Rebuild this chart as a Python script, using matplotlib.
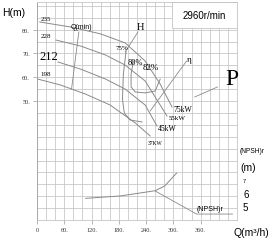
import matplotlib
matplotlib.use("Agg")
import matplotlib.pyplot as plt
from matplotlib.patches import Rectangle

# ------------------------
# Data
# ------------------------
# H-Q curves for four impeller diameters (Q in m3/h, H in m)
q_235 = [6, 74, 140, 194, 238, 271, 297]
h_235 = [83.2, 81.1, 78.2, 74.4, 66.8, 57.1, 47.5]
q_228 = [42, 96, 151, 194, 238, 286]
h_228 = [75.6, 73.1, 69.3, 65.1, 58.4, 43.7]
q_212 = [46, 96, 151, 194, 238, 264]
h_212 = [66.4, 63.4, 59.2, 55.0, 48.3, 39.5]
q_198 = [2, 52, 107, 161, 216, 249]
h_198 = [59.2, 56.7, 52.9, 48.3, 40.8, 35.3]

# iso-efficiency lines
q_eff75 = [196, 190, 188, 192, 205, 231]
h_eff75 = [71.0, 61.3, 50.8, 45.0, 42.0, 41.2]
q_eff80 = [212, 207, 207, 216, 238, 260, 271]
h_eff80 = [66.8, 61.3, 55.9, 53.8, 53.4, 54.2, 59.2]

# (NPSH)r curve, drawn on the same grid
q_npsh = [107, 183, 260, 281, 307]
h_npsh = [9.1, 10.1, 12.3, 14.3, 19.7]

diam_labels = ["235", "228", "212", "198"]
kw_labels = ["75kW", "55kW", "45kW", "37KW"]
x_ticks = [0, 60, 120, 180, 240, 300, 360]
y_ticks = [50, 60, 70, 80]
npsh_labels = ["7", "6", "5"]

W, H = 280, 253
fig = plt.figure(figsize=(W / 100, H / 100), dpi=100)
ax = fig.add_axes([37 / W, 1 - 221 / H, 200 / W, 218 / H])
ax.set_xlim(0, 440)
ax.set_ylim(0, 91.6)

grid_c = "#c4c4c4"
line_c = "#8a8a8a"
for v in range(20, 440, 20):
    ax.axvline(v, color=grid_c, lw=0.55, zorder=0)
for v in range(5, 95, 5):
    ax.axhline(v, color=grid_c, lw=0.55, zorder=0)

for s in ax.spines.values():
    s.set_color(grid_c)
    s.set_linewidth(0.6)
ax.spines["left"].set_color("#999999")

serif = "Liberation Serif"
sans = "Liberation Sans"

ax.set_xticks(x_ticks)
ax.set_xticklabels([str(t) if t == 0 else f"{t}." for t in x_ticks],
                   fontsize=4.5, family=serif, color="#333333")
ax.set_yticks(y_ticks)
ax.set_yticklabels([f"{t}." for t in y_ticks], fontsize=4.5, family=serif,
                   color="#333333")
ax.tick_params(length=3, width=0.5, color="#999999", pad=2)

# white box holding the speed
ax.add_patch(Rectangle((296, 80.5), 144, 11.1, facecolor="white",
                       edgecolor=grid_c, lw=0.6, zorder=1))
ax.text(368, 86.3, "2960r/min", fontsize=7, family=sans, ha="center",
        va="center", zorder=2)

# curves
for q, h in [(q_235, h_235), (q_228, h_228), (q_212, h_212), (q_198, h_198)]:
    ax.plot(q, h, color=line_c, lw=0.7, zorder=3)
ax.plot(q_eff75, h_eff75, color=line_c, lw=0.7, zorder=3)
ax.plot(q_eff80, h_eff80, color=line_c, lw=0.7, zorder=3)
ax.plot(q_npsh, h_npsh, color=line_c, lw=0.7, zorder=3)

# leader lines
lead = dict(color=line_c, lw=0.6, zorder=3)
ax.plot([92, 76], [79, 55], **lead)            # Q(min)
ax.plot([194, 222], [70.6, 79], **lead)        # H
ax.plot([329, 249], [66.8, 45.8], **lead)      # eta
ax.plot([397, 347], [55.9, 51.7], **lead)      # P
ax.plot([260, 351, 430], [12.2, 2.5, 2.5], **lead)  # (NPSH)r

# labels inside the plot
ax.text(8, 83.5, diam_labels[0], fontsize=5, family=serif, va="bottom")
ax.text(8, 76.5, diam_labels[1], fontsize=5, family=serif, va="bottom")
ax.text(6, 66.5, diam_labels[2], fontsize=9, family=serif, va="bottom")
ax.text(8, 60.5, diam_labels[3], fontsize=5, family=serif, va="bottom")
ax.text(74, 80, "Q(min)", fontsize=5, family=sans, va="bottom")
ax.text(174, 71.5, "75%", fontsize=5, family=serif, va="bottom")
ax.text(199, 64.5, "80%", fontsize=6, family=serif, va="bottom")
ax.text(233, 62.5, "82%", fontsize=6.5, family=serif, va="bottom")
ax.text(220, 79.5, "H", fontsize=7.5, family=serif, va="bottom")
ax.text(330, 66, "η", fontsize=6.5, family=serif, va="bottom")
ax.text(414, 55, "P", fontsize=17, family=serif, va="bottom")
ax.text(300, 46.5, kw_labels[0], fontsize=5.5, family=serif, va="center")
ax.text(289, 43, kw_labels[1], fontsize=5, family=serif, va="center")
ax.text(265, 38.5, kw_labels[2], fontsize=5.5, family=serif, va="center")
ax.text(243, 32.5, kw_labels[3], fontsize=4, family=serif, va="center")
ax.text(352, 3.5, "(NPSH)r", fontsize=5, family=sans, va="bottom")

# labels outside the plot
def fig_xy(px, py):
    return px / W, 1 - py / H

fig.text(*fig_xy(2, 13), "H(m)", fontsize=7.5, family=sans, va="center")
fig.text(*fig_xy(233, 233), "Q(m³/h)", fontsize=7.5, family=sans,
         va="center")
fig.text(*fig_xy(240, 152), "(NPSH)r", fontsize=4.8, family=sans,
         va="center")
fig.text(*fig_xy(240, 168), "(m)", fontsize=7.5, family=sans, va="center")
fig.text(*fig_xy(243, 182), npsh_labels[0], fontsize=4, family=sans,
         va="center")
fig.text(*fig_xy(243, 195), npsh_labels[1], fontsize=7, family=sans,
         va="center")
fig.text(*fig_xy(243, 208), npsh_labels[2], fontsize=7, family=sans,
         va="center")

fig.savefig("out.png", dpi=100)
